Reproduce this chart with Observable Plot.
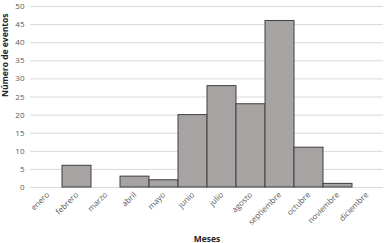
<!DOCTYPE html>
<html><head><meta charset="utf-8">
<script src="https://cdn.jsdelivr.net/npm/d3@7"></script>
<script src="https://cdn.jsdelivr.net/npm/@observablehq/plot@0.6"></script>
<style>body{margin:0;background:#fff}svg{display:block}</style>
</head><body><div id="chart"></div>
<script>
const meses = ["enero","febrero","marzo","abril","mayo","junio","julio","agosto","septiembre","octubre","noviembre","diciembre"];
const eventos = [0,6,0,3,2,20,28,23,46,11,1,0];
const yTicks = [0,5,10,15,20,25,30,35,40,45,50];
const data = meses.map((m,i)=>({mes:m, n:eventos[i]}));
const chart = Plot.plot({
  width:384, height:243,
  marginLeft:30, marginRight:1, marginTop:6, marginBottom:56,
  style:{fontFamily:"'Open Sans', sans-serif", fontSize:"8px", color:"#595959", background:"#fff"},
  x:{domain:meses, padding:0},
  y:{domain:[0,50]},
  marks:[
    Plot.gridY(yTicks,{stroke:"#d9d9d9", strokeOpacity:1, strokeWidth:1}),
    Plot.barY(data,{x:"mes", y:"n", fill:"#a6a3a2", stroke:"#404040", strokeWidth:1}),
    Plot.axisY(yTicks,{tickSize:0, tickPadding:6, label:null, fill:"#595959"}),
    Plot.axisX({tickSize:0, tickRotate:-45, tickPadding:6, label:null, fill:"#595959"}),
    Plot.text(["Meses"],{frameAnchor:"bottom", dy:54, fontWeight:"bold", fill:"#262626", fontSize:8.5}),
    Plot.text(["Número de eventos"],{frameAnchor:"left", dx:-25, rotate:-90, fontWeight:"bold", fill:"#262626", fontSize:8.5})
  ]
});
document.getElementById("chart").append(chart);
</script></body></html>
